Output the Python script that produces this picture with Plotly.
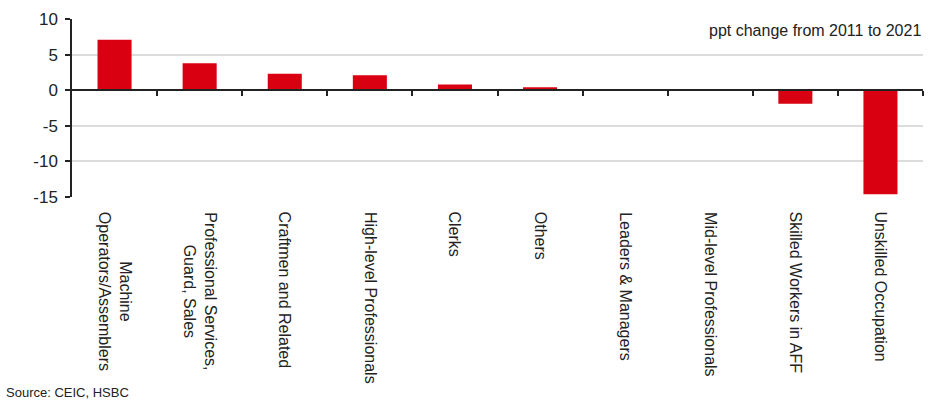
import plotly.graph_objects as go

categories = [
    "Machine<br>Operators/Assemblers",
    "Professional Services,<br>Guard, Sales",
    "Craftmen and Related",
    "High-level Professionals",
    "Clerks",
    "Others",
    "Leaders & Managers",
    "Mid-level Professionals",
    "Skilled Workers in AFF",
    "Unskilled Occupation",
]
values = [7.1, 3.8, 2.3, 2.1, 0.8, 0.4, 0.15, 0.1, -1.9, -14.6]
y_ticks = [10, 5, 0, -5, -10, -15]
y_tick_text = ["10", "5", "0", "-5", "-10", "-15"]

idx = list(range(len(categories)))
boundaries = [i + 0.5 for i in idx]

fig = go.Figure()
fig.add_trace(go.Bar(x=idx, y=values, marker=dict(color="#d90012", line=dict(width=0)),
                     width=0.4, hoverinfo="skip"))
fig.add_trace(go.Scatter(x=idx, y=values, xaxis="x2", mode="markers",
                         marker=dict(opacity=0), hoverinfo="skip", showlegend=False))

font_family = "Liberation Sans, Arial, sans-serif"

label_annotations = [
    dict(text=c, x=i, xref="x", y=-13 / 180, yref="paper", xanchor="center",
         yanchor="top", textangle=90, align="center", showarrow=False,
         font=dict(size=16, color="#222"))
    for i, c in zip(idx, categories)
]

fig.update_layout(
    width=933, height=408,
    margin=dict(l=72, r=10, t=17, b=211),
    paper_bgcolor="white", plot_bgcolor="white",
    showlegend=False,
    font=dict(family=font_family, color="#222"),
    xaxis=dict(
        range=[-0.5, 9.5], tickvals=idx, showticklabels=False,
        showgrid=False, zeroline=False, showline=False, ticks="",
    ),
    xaxis2=dict(
        range=[-0.5, 9.5], overlaying="x", anchor="free", position=0.6,
        side="bottom", showgrid=False, zeroline=False, showline=True,
        linecolor="#222", linewidth=1.5, ticks="outside", ticklen=5,
        tickcolor="#222", tickwidth=1.5, tickvals=boundaries, showticklabels=False,
    ),
    yaxis=dict(
        range=[-15, 10], tickvals=y_ticks, ticktext=y_tick_text, showgrid=True,
        gridcolor="#dcdcdc", gridwidth=1.5, zeroline=False, showline=True,
        linecolor="#222", linewidth=1.5, ticks="outside", ticklen=5,
        tickcolor="#222", tickwidth=1.5, tickfont=dict(size=17, color="#222"),
        ticklabelstandoff=4,
    ),
    annotations=label_annotations + [
        dict(text="ppt change from 2011 to 2021", xref="paper", yref="paper",
             x=1, y=0.935, xanchor="right", yanchor="middle", showarrow=False,
             font=dict(size=16, color="#222")),
        dict(text="Source: CEIC, HSBC", xref="paper", yref="paper",
             x=-68/851, y=(197-395)/180, xanchor="left", yanchor="middle",
             showarrow=False, font=dict(size=13, color="#222")),
    ],
)

fig.write_html("out.html")
